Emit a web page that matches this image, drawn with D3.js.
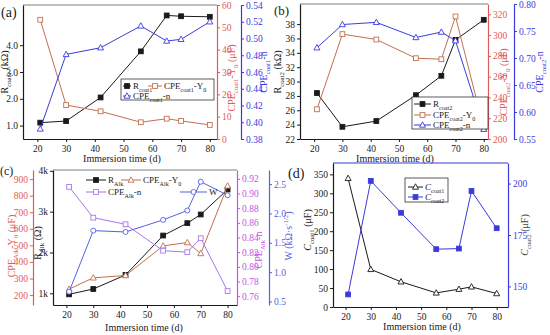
<!DOCTYPE html>
<html>
<head>
<meta charset="utf-8">
<script src="https://cdn.jsdelivr.net/npm/d3@7"></script>
<style>
  body { margin: 0; background: #fff; }
  svg { display: block; }
  svg text { font-family: "Liberation Serif", "Times New Roman", serif; }
</style>
</head>
<body>
<svg width="550" height="335"></svg>
<script>
// immersion days, same for every panel
var days = [21, 30, 42, 56, 65, 70, 80];
var dayTicks = [20, 30, 40, 50, 60, 70, 80];

// (a)
var rCoat1 = [1.11, 1.17, 2.05, 3.77, 5.11, 5.08, 5.06];
var cpeCoat1Y0 = [53.4, 15.2, 12.4, 7.5, 9.1, 8.1, 6.3];
var cpeCoat1N = [0.392, 0.481, 0.489, 0.515, 0.497, 0.499, 0.520];
// (b)
var rCoat2 = [28.4, 23.7, 24.5, 28.1, 30.8, 35.8, 38.6];
var cpeCoat2Y0 = [228.6, 301, 295.8, 277.8, 276.8, 318, 210.6];
var cpeCoat2N = [0.719, 0.762, 0.766, 0.738, 0.748, 0.732, 0.568];
// (c)
var rAlk = [975, 1106, 1450, 2415, 2718, 2930, 3543];
var cpeAlkY0 = [236, 304, 318, 497, 517, 451, 859];
var cpeAlkN = [0.909, 0.867, 0.858, 0.822, 0.820, 0.839, 0.767];
var wAlk = [0.667, 1.707, 1.684, 1.89, 2.05, 2.54, 2.31];
// (d)
var cCoat1 = [339.5, 99.3, 66.5, 37.2, 47, 53.2, 35.5];
var cCoat2 = [146.1, 201.3, 185.8, 168.1, 168.4, 196.4, 178.3];

// tick values
var ticksRCoat1 = [1, 2, 3, 4];
var ticksY0a = [0, 10, 20, 30, 40, 50, 60];
var ticksNa = [0.38, 0.40, 0.42, 0.44, 0.46, 0.48, 0.50, 0.52, 0.54];
var ticksRCoat2 = [22, 24, 26, 28, 30, 32, 34, 36, 38];
var ticksY0b = [200, 220, 240, 260, 280, 300, 320];
var ticksNb = [0.55, 0.60, 0.65, 0.70, 0.75, 0.80];
var ticksRAlk = [1000, 2000, 3000, 4000];
var ticksY0c = [200, 300, 400, 500, 600, 700, 800, 900];
var ticksNc = [0.76, 0.78, 0.80, 0.82, 0.84, 0.86, 0.88, 0.90, 0.92];
var ticksW = [0.5, 1.0, 1.5, 2.0, 2.5];
var ticksC1 = [0, 50, 100, 150, 200, 250, 300, 350];
var ticksC2 = [150, 175, 200];

var black = "#1a1a1a", brown = "#c2704f", redAx = "#e05a5a", blue = "#3b3bdc",
  purpleAx = "#c455e6", purple = "#a678ec", wBlue = "#5561df", gray = "#808080";

var svg = d3.select("svg");

// text with sub/superscripts and italics
function rich(t, parts, fs) {
  var off = 0;
  parts.forEach(function(p) {
    var k = p[1];
    var target = k === "sub" ? fs * 0.28 : k === "sup" ? -fs * 0.42 : 0;
    var ts = t.append("tspan").text(p[0]).attr("dy", target - off);
    if (k === "sub" || k === "sup") ts.attr("font-size", fs * 0.68);
    if (k === "i") ts.attr("font-style", "italic");
    off = target;
  });
  return t;
}

function label(g, o) {
  var fs = o.size || 10;
  var t = g.append("text")
    .attr("font-size", fs)
    .attr("fill", o.color || black)
    .attr("text-anchor", o.anchor || "middle");
  if (o.rotate) {
    t.attr("transform", "translate(" + o.x + "," + o.y + ") rotate(-90)").attr("dy", "0.35em");
  } else {
    t.attr("x", o.x).attr("y", o.y);
  }
  return rich(t, o.parts, fs);
}

function marker(g, type, cx, cy, color, filled) {
  var f = filled ? color : "#fff";
  if (type === "square") {
    g.append("rect").attr("x", cx - 2.4).attr("y", cy - 2.4).attr("width", 4.8).attr("height", 4.8)
      .attr("fill", f).attr("stroke", color).attr("stroke-width", 0.9);
  } else if (type === "triangle") {
    g.append("path").attr("d", "M" + cx + "," + (cy - 3.2) + "L" + (cx + 3) + "," + (cy + 2.2) + "L" + (cx - 3) + "," + (cy + 2.2) + "Z")
      .attr("fill", f).attr("stroke", color).attr("stroke-width", 0.9);
  } else {
    g.append("circle").attr("cx", cx).attr("cy", cy).attr("r", 2.5)
      .attr("fill", f).attr("stroke", color).attr("stroke-width", 0.9);
  }
}

function styleAxis(sel, color) {
  sel.attr("color", color).attr("font-family", null).attr("font-size", 9.5);
  sel.select(".domain").attr("stroke-width", 1.2);
}

function panel(cfg) {
  var g = svg.append("g");
  var x = d3.scaleLinear().domain(cfg.xDomain).range([cfg.left, cfg.right]);

  g.append("line")
    .attr("x1", cfg.left).attr("x2", cfg.right)
    .attr("y1", cfg.top).attr("y2", cfg.top)
    .attr("stroke", cfg.topColor || gray).attr("stroke-width", 1.2);

  var xa = g.append("g")
    .attr("transform", "translate(0," + cfg.bottom + ")")
    .call(d3.axisBottom(x).tickValues(dayTicks).tickSize(3).tickPadding(3).tickSizeOuter(0));
  styleAxis(xa, black);

  cfg.axes.forEach(function(a) {
    a.scale = d3.scaleLinear().domain(a.domain).range([cfg.bottom, cfg.top]);
    var ax = (a.side === "left" ? d3.axisLeft(a.scale) : d3.axisRight(a.scale))
      .tickValues(a.ticks).tickSize(3).tickPadding(2).tickSizeOuter(0);
    if (a.fmt) ax.tickFormat(a.fmt);
    var ag = g.append("g").attr("transform", "translate(" + a.x + ",0)").call(ax);
    styleAxis(ag, a.color);
  });

  cfg.series.forEach(function(s) {
    var y = cfg.axes[s.axis].scale;
    var line = d3.line()
      .x(function(d, i) { return x(days[i]); })
      .y(function(d) { return y(d); });
    g.append("path").datum(s.values)
      .attr("d", line).attr("fill", "none")
      .attr("stroke", s.color).attr("stroke-width", 1);
    s.values.forEach(function(v, i) {
      marker(g, s.marker, x(days[i]), y(v), s.color, s.filled);
    });
  });

  if (cfg.legendBox) {
    var b = cfg.legendBox;
    g.append("rect").attr("x", b[0]).attr("y", b[1]).attr("width", b[2]).attr("height", b[3])
      .attr("fill", "#fff").attr("stroke", "#333").attr("stroke-width", 0.8);
  }
  cfg.legend.forEach(function(l) {
    var s = cfg.series[l.s];
    g.append("line").attr("x1", l.x).attr("x2", l.x + l.len).attr("y1", l.y).attr("y2", l.y)
      .attr("stroke", s.color).attr("stroke-width", 1);
    marker(g, s.marker, l.x + l.len / 2, l.y, s.color, s.filled);
    label(g, { x: l.x + l.len + 2, y: l.y + 3, anchor: "start", size: 9, parts: l.parts });
  });

  cfg.titles.forEach(function(t) { label(g, t); });
}

// (a)
panel({
  left: 23, right: 217, top: 5, bottom: 139, xDomain: [15, 82.5],
  axes: [
    { side: "left", x: 23, domain: [0.5, 5.5], ticks: ticksRCoat1, color: black },
    { side: "right", x: 217, domain: [0, 60], ticks: ticksY0a, color: redAx },
    { side: "right", x: 241, domain: [0.38, 0.54], ticks: ticksNa, color: blue, fmt: d3.format(".2f") }
  ],
  series: [
    { values: rCoat1, axis: 0, color: black, marker: "square", filled: true },
    { values: cpeCoat1Y0, axis: 1, color: brown, marker: "square", filled: false },
    { values: cpeCoat1N, axis: 2, color: blue, marker: "triangle", filled: false }
  ],
  legendBox: [121, 79, 93, 21],
  legend: [
    { s: 0, x: 123, y: 86, len: 8, parts: [["R"], ["coat1", "sub"]] },
    { s: 1, x: 148, y: 86, len: 14, parts: [["CPE"], ["coat1", "sub"], ["-Y"], ["0", "sub"]] },
    { s: 2, x: 123, y: 96, len: 8, parts: [["CPE"], ["coat1", "sub"], ["-n"]] }
  ],
  titles: [
    { x: 1, y: 17, anchor: "start", size: 14, parts: [["(a)"]] },
    { x: 8, y: 72, rotate: true, parts: [["R"], ["coat1", "sub"], [" (kΩ)"]] },
    { x: 235, y: 78, rotate: true, color: redAx, parts: [["CPE"], ["coat1", "sub"], ["-Y"], ["0", "sub"], [" (μF)"]] },
    { x: 267, y: 72, rotate: true, color: blue, parts: [["CPE"], ["coat1", "sub"], ["-n"]] },
    { x: 122, y: 162, size: 10, parts: [["Immersion time (d)"]] }
  ]
});

// (b)
panel({
  left: 300, right: 488, top: 4, bottom: 139, xDomain: [15, 81.5],
  axes: [
    { side: "left", x: 300, domain: [22, 40.8], ticks: ticksRCoat2, color: black },
    { side: "right", x: 488, domain: [200, 330], ticks: ticksY0b, color: redAx },
    { side: "right", x: 514, domain: [0.55, 0.80], ticks: ticksNb, color: blue, fmt: d3.format(".2f") }
  ],
  series: [
    { values: rCoat2, axis: 0, color: black, marker: "square", filled: true },
    { values: cpeCoat2Y0, axis: 1, color: brown, marker: "square", filled: false },
    { values: cpeCoat2N, axis: 2, color: blue, marker: "triangle", filled: false }
  ],
  legendBox: [412, 97, 76, 32],
  legend: [
    { s: 0, x: 414, y: 104, len: 17, parts: [["R"], ["coat2", "sub"]] },
    { s: 1, x: 414, y: 115, len: 17, parts: [["CPE"], ["coat2", "sub"], ["-Y"], ["0", "sub"]] },
    { s: 2, x: 414, y: 125, len: 17, parts: [["CPE"], ["coat2", "sub"], ["-n"]] }
  ],
  titles: [
    { x: 274, y: 15, anchor: "start", size: 13, parts: [["(b)"]] },
    { x: 281, y: 72, rotate: true, parts: [["R"], ["coat2", "sub"], [" (kΩ)"]] },
    { x: 507, y: 82, rotate: true, color: redAx, parts: [["CPE"], ["coat2", "sub"], ["-Y"], ["0", "sub"], [" (μF)"]] },
    { x: 543, y: 72, rotate: true, color: blue, parts: [["CPE"], ["coat2", "sub"], ["-n"]] },
    { x: 395, y: 162, size: 10, parts: [["Immersion time (d)"]] }
  ]
});

// (c)
panel({
  left: 53, right: 237, top: 170, bottom: 305, xDomain: [15, 83.5],
  axes: [
    { side: "left", x: 53, domain: [714, 4020], ticks: ticksRAlk, color: black, fmt: function(d) { return d / 1000 + "k"; } },
    { side: "left", x: 33, domain: [140, 955], ticks: ticksY0c, color: redAx },
    { side: "right", x: 237, domain: [0.748, 0.932], ticks: ticksNc, color: purpleAx, fmt: d3.format(".2f") },
    { side: "right", x: 269, domain: [0.44, 2.74], ticks: ticksW, color: wBlue, fmt: d3.format(".1f") }
  ],
  series: [
    { values: rAlk, axis: 0, color: black, marker: "square", filled: true },
    { values: cpeAlkY0, axis: 1, color: brown, marker: "triangle", filled: false },
    { values: cpeAlkN, axis: 2, color: purple, marker: "square", filled: false },
    { values: wAlk, axis: 3, color: wBlue, marker: "circle", filled: false }
  ],
  legend: [
    { s: 0, x: 86, y: 180, len: 20, parts: [["R"], ["Alk", "sub"]] },
    { s: 1, x: 121, y: 180, len: 20, parts: [["CPE"], ["Alk", "sub"], ["-Y"], ["0", "sub"]] },
    { s: 2, x: 86, y: 192, len: 20, parts: [["CPE"], ["Alk", "sub"], ["-n"]] },
    { s: 3, x: 180, y: 192, len: 27, parts: [["W"]] }
  ],
  titles: [
    { x: 0, y: 175, anchor: "start", size: 12, parts: [["(c)"]] },
    { x: 15, y: 246, rotate: true, color: redAx, parts: [["CPE"], ["Alk", "sub"], ["-Y"], ["0", "sub"], [" (μF)"]] },
    { x: 41, y: 243, rotate: true, parts: [["R"], ["Alk", "sub"], [" (Ω)"]] },
    { x: 262, y: 250, rotate: true, color: purpleAx, parts: [["CPE"], ["Alk", "sub"], ["-n"]] },
    { x: 292, y: 236, rotate: true, color: wBlue, parts: [["W (kΩ·s"], ["-1/2", "sup"], [")"]] },
    { x: 144, y: 331, size: 10, parts: [["Immersion time (d)"]] }
  ]
});

// (d)
panel({
  left: 333, right: 508, top: 163, bottom: 307, xDomain: [15, 84.5], topColor: blue,
  axes: [
    { side: "left", x: 333, domain: [0, 380], ticks: ticksC1, color: black },
    { side: "right", x: 508, domain: [140, 210], ticks: ticksC2, color: blue }
  ],
  series: [
    { values: cCoat1, axis: 0, color: black, marker: "triangle", filled: false },
    { values: cCoat2, axis: 1, color: blue, marker: "square", filled: true }
  ],
  legendBox: [405, 178, 43, 24],
  legend: [
    { s: 0, x: 408, y: 187, len: 15, parts: [["C", "i"], ["coat1", "sub"]] },
    { s: 1, x: 408, y: 197, len: 15, parts: [["C", "i"], ["coat2", "sub"]] }
  ],
  titles: [
    { x: 288, y: 178, anchor: "start", size: 14, parts: [["(d)"]] },
    { x: 311, y: 230, rotate: true, parts: [["C", "i"], ["coat1", "sub"], [" (μF)"]] },
    { x: 528, y: 235, rotate: true, color: "#444", parts: [["C", "i"], ["coat2", "sub"], [" (μF)"]] },
    { x: 422, y: 330, size: 10, parts: [["Immersion time (d)"]] }
  ]
});
</script>
</body>
</html>
